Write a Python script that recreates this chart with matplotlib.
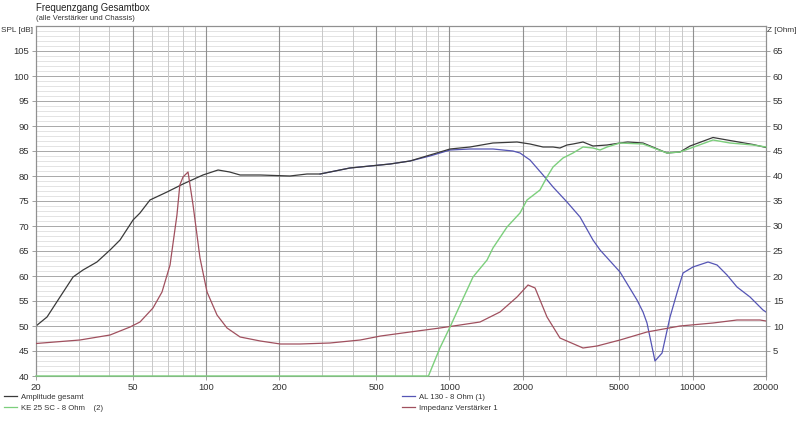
import matplotlib
matplotlib.use("Agg")
import matplotlib.pyplot as plt
from matplotlib.lines import Line2D
import numpy as np

plt.rcParams['font.family'] = ['Liberation Sans', 'DejaVu Sans']

# ---- data ----
amp_f = [20, 22.2, 25.1, 28.4, 31.2, 35.6, 40.3, 44.3, 50.1, 53.5, 58.8, 69.1, 80.4, 97.1,
         112, 125, 138, 167, 221, 260, 294, 355, 390, 472, 570, 689, 832, 1006, 1215, 1510,
         1896, 2144, 2425, 2666, 2846, 3042, 3220, 3540, 3890, 4444, 5024, 5400, 6246, 7000,
         7836, 8864, 9748, 12114, 14220, 17694, 20000]
amp_db = [50.0, 51.8, 55.8, 59.8, 61.2, 62.8, 65.2, 67.2, 71.2, 72.6, 75.2, 76.8, 78.4, 80.2,
          81.2, 80.8, 80.2, 80.2, 80.0, 80.4, 80.4, 81.2, 81.6, 82.0, 82.4, 83.0, 84.2, 85.4, 85.8, 86.6,
          86.8, 86.4, 85.8, 85.8, 85.6, 86.2, 86.4, 86.8, 86.0, 86.2, 86.6, 86.8, 86.6, 85.6,
          84.6, 84.8, 86.0, 87.7, 87.1, 86.3, 85.7]

al_f = [294, 355, 390, 472, 570, 689, 832, 1006, 1215, 1510, 1824, 1950, 2144, 2425, 2666,
        3042, 3442, 3890, 4160, 5024, 5900, 6246, 6486, 6996, 7480, 8066, 8612, 9122, 10020,
        11556, 12588, 13830, 15200, 17194, 19440, 20000]
al_db = [80.4, 81.2, 81.6, 82.0, 82.4, 83.0, 84.0, 85.2, 85.4, 85.4, 85.0, 84.6, 83.2, 80.2, 77.8,
         74.8, 71.8, 67.2, 65.2, 60.8, 55.2, 52.8, 50.6, 43.0, 44.6, 51.8, 56.6, 60.6, 61.8,
         62.8, 62.2, 60.2, 57.8, 55.8, 53.2, 52.8]

ke_f = [20, 820, 914, 1006, 1106, 1250, 1428, 1510, 1725, 1950, 2084, 2356, 2518, 2666, 2930,
        3220, 3540, 3890, 4160, 4444, 5024, 6246, 7836, 8864, 12114, 14220, 17694, 20000]
ke_db = [40.0, 40.0, 45.6, 49.8, 54.2, 59.8, 63.2, 65.6, 69.8, 72.6, 75.2, 77.2, 79.8, 81.8, 83.6,
         84.6, 85.8, 85.6, 85.2, 85.8, 86.6, 86.4, 84.6, 84.8, 87.2, 86.6, 86.2, 85.8]

imp_f = [20, 30.3, 40.3, 48.7, 53.5, 60.5, 65.9, 71.1, 75.9, 78.0, 80.4, 84.3, 88.4, 94.4, 100.9,
         110.9, 121.9, 138, 167, 202, 243, 323, 430, 522, 689, 914, 1106, 1336, 1614, 1896,
         2104, 2249, 2518, 2846, 3540, 4042, 5024, 6486, 8864, 12114, 15200, 18880, 20000]
imp_ohm = [6.5, 7.2, 8.2, 9.8, 10.8, 13.6, 16.8, 22.2, 32.2, 38.2, 39.8, 40.8, 34.2, 23.6, 16.8,
           12.2, 9.6, 7.8, 7.0, 6.4, 6.4, 6.6, 7.2, 8.0, 8.8, 9.6, 10.2, 10.8, 12.8, 15.8,
           18.2, 17.6, 11.8, 7.6, 5.6, 6.0, 7.2, 8.8, 10.0, 10.6, 11.2, 11.2, 11.0]

x_ticks = [20, 50, 100, 200, 500, 1000, 2000, 5000, 10000, 20000]
x_minor = [30, 40, 60, 70, 80, 90, 300, 400, 600, 700, 800, 900,
           3000, 4000, 6000, 7000, 8000, 9000]
spl_ticks = list(range(40, 110, 5))
z_ticks = list(range(5, 70, 5))

c_amp = '#3a3a3a'
c_ke = '#7ccf7c'
c_al = '#5555b5'
c_imp = '#a0505e'

fig = plt.figure(figsize=(8.0, 4.22), dpi=100)
ax = fig.add_axes([36/800, 1-376/422, 730/800, 350/422])
ax.set_xscale('log')
ax.set_xlim(20, 20000)
ax.set_ylim(40, 110)

# grid
for v in range(41, 110):
    if v % 5:
        ax.axhline(v, color='#dedede', lw=0.6, zorder=0)
for v in range(45, 110, 5):
    ax.axhline(v, color='#a8a8a8', lw=0.7, zorder=0)
for f in x_minor:
    ax.axvline(f, color='#c8c8c8', lw=0.7, zorder=0)
for f in x_ticks[1:-1]:
    ax.axvline(f, color='#909090', lw=0.8, zorder=0)

ax.plot(al_f, al_db, color=c_al, lw=0.9, zorder=4)
ax.plot(amp_f, amp_db, color=c_amp, lw=0.9, zorder=5)

ax.set_xticks(x_ticks)
ax.set_xticklabels([str(t) for t in x_ticks])
ax.xaxis.set_minor_locator(matplotlib.ticker.NullLocator())
ax.set_yticks(spl_ticks)
ax.set_yticklabels([str(t) for t in spl_ticks])
ax.tick_params(axis='both', labelsize=6.8, length=3, width=0.6, pad=2,
               colors='#909090', labelcolor='#333333')
for s in ax.spines.values():
    s.set_color('#909090')
    s.set_linewidth(0.8)

ax2 = ax.twinx()
ax2.set_ylim(0, 70)
ax2.plot(imp_f, imp_ohm, color=c_imp, lw=0.9, zorder=6)

# green series drawn on a top axes (in SPL units) so it is visible along the bottom edge
ax3 = ax2.twinx()
ax3.set_ylim(40, 110)
ax3.set_yticks([])
for s in ax3.spines.values():
    s.set_visible(False)
ax3.plot(ke_f, ke_db, color=c_ke, lw=1.0, zorder=3, clip_on=False)

ax2.yaxis.tick_right()
ax2.set_yticks(z_ticks)
ax2.set_yticklabels([str(t) for t in z_ticks])
ax2.tick_params(axis='y', labelsize=6.8, colors='#909090', labelcolor='#333333', length=3, width=0.6, pad=2,
                left=False, labelleft=False, right=True, labelright=True)
for s in ax2.spines.values():
    s.set_color('#909090')
    s.set_linewidth(0.8)
ax2.spines['bottom'].set_visible(False)

fig.text(36/800, 1-8/422, 'Frequenzgang Gesamtbox', fontsize=6.9, color='#222222', va='center', ha='left')
fig.text(36/800, 1-18.5/422, '(alle Verstärker und Chassis)', fontsize=5.5, color='#333333', va='center', ha='left')
fig.text(33/800, 1-30/422, 'SPL [dB]', fontsize=5.9, color='#333333', va='center', ha='right')
fig.text(767/800, 1-30/422, 'Z [Ohm]', fontsize=5.9, color='#333333', va='center', ha='left')

# legend
h1 = [Line2D([], [], color=c_amp, lw=0.9), Line2D([], [], color=c_ke, lw=0.9)]
l1 = ['Amplitude gesamt', 'KE 25 SC - 8 Ohm    (2)']
h2 = [Line2D([], [], color=c_al, lw=0.9), Line2D([], [], color=c_imp, lw=0.9)]
l2 = ['AL 130 - 8 Ohm (1)', 'Impedanz Verstärker 1']
for hs, ls, xx in [(h1, l1, 2/800), (h2, l2, 400/800)]:
    fig.legend(hs, ls, loc='upper left', bbox_to_anchor=(xx, 1-392/422), frameon=False,
               fontsize=5.6, handlelength=1.7, handletextpad=0.5, labelspacing=0.45,
               borderaxespad=0, borderpad=0.2, labelcolor='#333333')

fig.savefig('out.png', dpi=100, facecolor='white')
